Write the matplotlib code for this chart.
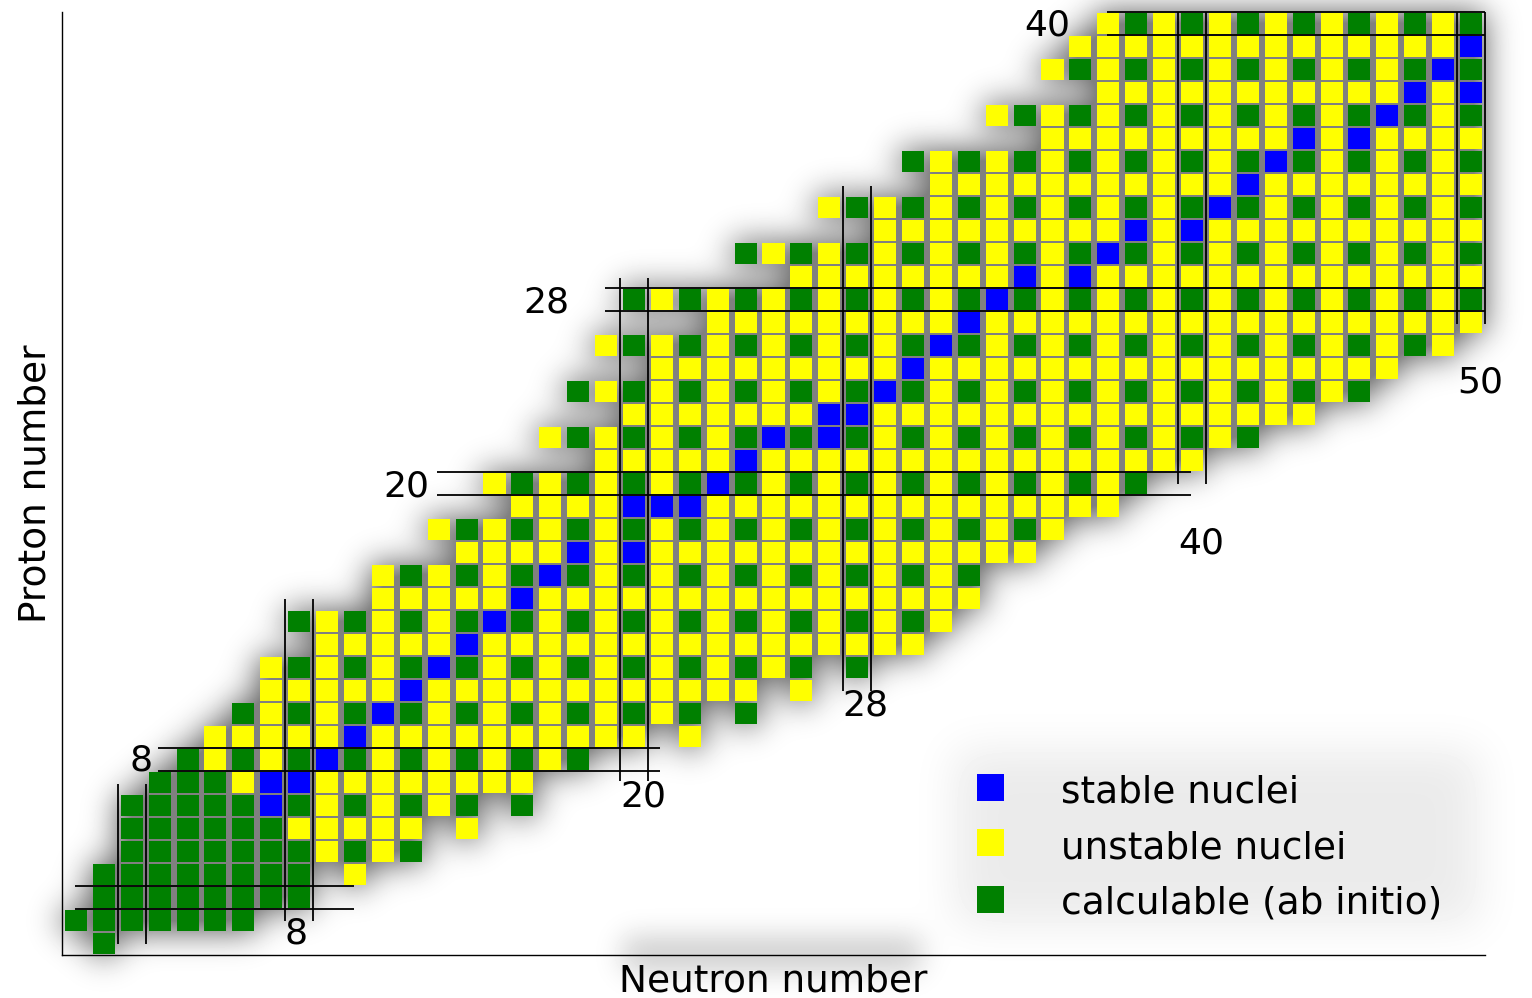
import numpy as np
import matplotlib
matplotlib.use('Agg')
import matplotlib.pyplot as plt
from matplotlib.patches import Rectangle

# One row per proton number Z (index), first neutron number in the row,
# then one code per neutron number:
# b = stable, y = unstable, g = calculable (ab initio), . = no nucleus
row_start = [1, 0, 1, 1, 2, 2, 2, 3, 4, 5,
             6, 7, 7, 9, 8, 11, 11, 14, 13, 16,
             15, 19, 17, 20, 18, 21, 19, 23, 20, 26,
             24, 29, 27, 31, 30, 35, 33, 37, 35, 36,
             37]
row_cells = [
    "g",                                                          # Z=0
    "ggggg" "gg",                                                 # Z=1
    "ggggg" "ggg",                                                # Z=2
    "ggggg" "ggg" ".y",                                           # Z=3
    "ggggg" "gg" "ygyg",                                          # Z=4
    "ggggg" "g" "yyyyy" ".y",                                     # Z=5
    "ggggg" "bgygygyg" ".g",                                      # Z=6
    "gggy" "bb" "yyyyy" "yyy",                                    # Z=7
    "gygyg" "b" "gygygygyg",                                      # Z=8
    "yyyyy" "b" "yyyyy" "yyyyy" ".y",                             # Z=9
    "gygyg" "b" "gygygygygyg" ".g",                               # Z=10
    "yyyyy" "b" "yyyyy" "yyyyy" "yy" ".y",                        # Z=11
    "ygygyg" "b" "gygygygygygyg" ".g",                            # Z=12
    "yyyyy" "b" "yyyyy" "yyyyy" "yyyyy" "y",                      # Z=13
    "gygygyg" "b" "gygygygygygygygy",                             # Z=14
    "yyyyy" "b" "yyyyy" "yyyyy" "yyyyy" "y",                      # Z=15
    "ygygyg" "b" "gygygygygygygyg",                               # Z=16
    "yyyy" "byb" "yyyyy" "yyyyy" "yyyy",                          # Z=17
    "ygygygygygygygygygygygy",                                    # Z=18
    "yyyy" "bbb" "yyyyy" "yyyyy" "yyyyy",                         # Z=19
    "ygygygyg" "b" "gygygygygygygyg",                             # Z=20
    "yyyyy" "b" "yyyyy" "yyyyy" "yyyyy" "y",                      # Z=21
    "ygygygyg" "bgbg" "ygygygygygygyg",                           # Z=22
    "yyyyy" "yy" "bb" "yyyyy" "yyyyy" "yyyyy" "y",                # Z=23
    "gygygygygyg" "b" "gygygygygygygygyg",                        # Z=24
    "yyyyy" "yyyy" "b" "yyyyy" "yyyyy" "yyyyy" "yy",              # Z=25
    "ygygygygygyg" "b" "gygygygygygygygygy",                      # Z=26
    "yyyyy" "yyyy" "b" "yyyyy" "yyyyy" "yyyyy" "yyy",             # Z=27
    "gygygygygygyg" "b" "gygygygygygygygyg",                      # Z=28
    "yyyyy" "yyy" "byb" "yyyyy" "yyyyy" "yyyy",                   # Z=29
    "gygygygygygyg" "b" "gygygygygygyg",                          # Z=30
    "yyyyy" "yyyy" "byb" "yyyyy" "yyyyy",                         # Z=31
    "ygygygygygygyg" "b" "gygygygyg",                             # Z=32
    "yyyyy" "yyyyy" "y" "b" "yyyyy" "yyy",                        # Z=33
    "gygygygygygyg" "b" "gygygyg",                                # Z=34
    "yyyyy" "yyyy" "byb" "yyyy",                                  # Z=35
    "ygygygygygygyg" "b" "gyg",                                   # Z=36
    "yyyyy" "yyyyy" "y" "byb",                                    # Z=37
    "ygygygygygygyg" "bg",                                        # Z=38
    "yyyyy" "yyyyy" "yyyy" "b",                                   # Z=39
    "ygygygygygygyg",                                             # Z=40
]

colors = {'b': '#0000ff', 'y': '#ffff00', 'g': '#008000'}
legend_labels = {'b': 'stable nuclei', 'y': 'unstable nuclei',
                 'g': 'calculable (ab initio)'}

# magic numbers: (value, from, to) of the double lines
magic_n = [(2, 0.0, 6.95), (8, 1.0, 15.0), (20, 7.05, 28.95),
           (28, 11.0, 32.95), (40, 20.0, 40.5), (50, 26.95, 40.5)]
magic_z = [(2, -0.05, 9.95), (8, 2.95, 20.95), (20, 12.95, 39.95),
           (28, 18.95, 50.5), (40, 36.95, 50.5)]
magic_text = [('8', 2.74, 7.52, 'right'), ('8', 7.9, 0.0, 'center'),
              ('20', 12.67, 19.43, 'right'), ('20', 20.32, 5.96, 'center'),
              ('28', 17.69, 27.43, 'right'), ('28', 28.31, 9.91, 'center'),
              ('40', 35.64, 39.48, 'right'), ('40', 40.32, 16.96, 'center'),
              ('50', 50.32, 23.96, 'center')]


def blur(img, sigma):
    r = int(3 * sigma)
    k = np.exp(-0.5 * (np.arange(-r, r + 1) / sigma) ** 2)
    k /= k.sum()
    img = np.apply_along_axis(lambda v: np.convolve(v, k, mode='same'), 1, img)
    img = np.apply_along_axis(lambda v: np.convolve(v, k, mode='same'), 0, img)
    return img


W, H = 1532, 998
fig = plt.figure(figsize=(W / 100, H / 100), dpi=100)
bg = fig.add_axes([0, 0, 1, 1])
ax = fig.add_axes([62 / W, 43 / H, 1423 / W, 943 / H])
bg.set_zorder(0)
ax.set_zorder(1)
ax.patch.set_alpha(0)
ax.set_xlim(-0.5, 50.5)
ax.set_ylim(-0.5, 40.5)

nuclei = {c: ([], []) for c in colors}
for z, (n0, cells) in enumerate(zip(row_start, row_cells)):
    for i, c in enumerate(cells):
        if c in nuclei:
            nuclei[c][0].append(n0 + i)
            nuclei[c][1].append(z)

for c, (ns, zs) in nuclei.items():
    ax.bar(ns, 0.93, width=0.79, bottom=np.array(zs) - 0.465,
           color=colors[c], linewidth=0, zorder=2)


def px_box(x0, y0, x1, y1):
    (a, b), (c, d) = ax.transData.transform([(x0, y0), (x1, y1)])
    return int(round(H - d)), int(round(H - b)), int(round(a)), int(round(c))


# soft drop shadow under the chart and the legend
mask = np.zeros((H, W))
for ns, zs in nuclei.values():
    for n, z in zip(ns, zs):
        r0, r1, c0, c1 = px_box(n - 0.5, z - 0.5, n + 0.5, z + 0.5)
        mask[r0:r1, c0:c1] = 1
leg = np.zeros((H, W))
r0, r1, c0, c1 = px_box(31.5, 0.8, 50.3, 8.4)
leg[r0:r1, c0:c1] = 1
lab = np.zeros((H, W))
r0, r1, c0, c1 = px_box(19.6, -1.2, 30.3, 0.3)
lab[r0:r1, c0:c1] = 1

shade = (0.5 * np.clip(1.3 * blur(mask, 16), 0, 1)
         + 0.08 * blur(leg, 22) + 0.2 * blur(lab, 14))
bg.imshow(1 - shade, cmap='gray', vmin=0, vmax=1,
          interpolation='nearest', aspect='auto')
bg.set_axis_off()

for m, a, b in magic_n:
    ax.vlines([m - 0.5, m + 0.5], a, b, color='black', lw=1.3,
              zorder=3, clip_on=False)
for m, a, b in magic_z:
    ax.hlines([m - 0.5, m + 0.5], a, b, color='black', lw=1.3,
              zorder=3, clip_on=False)
for s, x, y, ha in magic_text:
    ax.text(x, y, s, fontsize=26, ha=ha, va='baseline', zorder=4)

# legend
for c, zc, zb in zip('byg', [6.80, 4.39, 1.91], [6.13, 3.71, 1.30]):
    ax.add_patch(Rectangle((32.31, zc - 0.585), 0.968, 1.17,
                           color=colors[c], lw=0, zorder=3))
    ax.text(35.32, zb, legend_labels[c], fontsize=27, va='baseline', zorder=4)

ax.set_xticks([])
ax.set_yticks([])
for side in ['top', 'right']:
    ax.spines[side].set_visible(False)
for side in ['left', 'bottom']:
    ax.spines[side].set_linewidth(1.0)

ax.set_xlabel('Neutron number', fontsize=27, va='baseline')
ax.xaxis.set_label_coords(0.5, -0.0392)
ax.set_ylabel('Proton number', fontsize=27, va='center')
ax.yaxis.set_label_coords(-0.0183, 0.5)

fig.savefig('out.png', dpi=100)
